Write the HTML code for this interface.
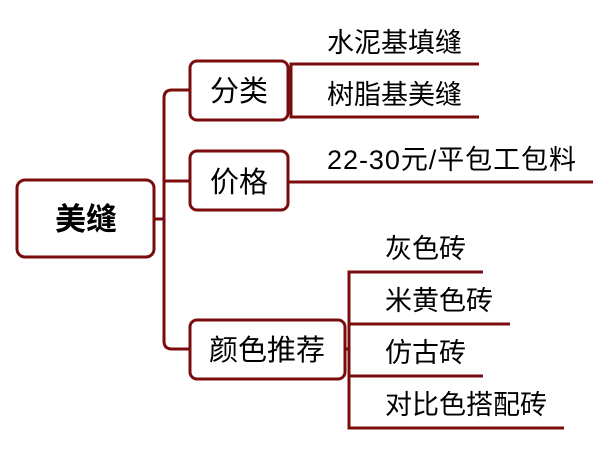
<!DOCTYPE html>
<html><head><meta charset="utf-8"><style>
body{margin:0;background:#fff;width:612px;height:445px;overflow:hidden}
svg text{font-family:"Liberation Sans","Noto Sans CJK SC",sans-serif;fill:#000}
</style></head><body>
<svg width="612" height="445" viewBox="0 0 612 445" xmlns="http://www.w3.org/2000/svg">
<g fill="none" stroke="#7b0c0c" stroke-width="3">
<rect x="17" y="180" width="137" height="77" rx="8" fill="#fff"/>
<rect x="190" y="61" width="98" height="59" rx="7" fill="#fff"/>
<rect x="190" y="151" width="98" height="59" rx="7" fill="#fff"/>
<rect x="190" y="320" width="155" height="59" rx="7" fill="#fff"/>
<path d="M154 219 H164"/>
<path d="M190 90 H172 Q164 90 164 98 V341 Q164 349 172 349 H190"/>
<path d="M164 181 Q164 181 172 181 H190"/>
<path d="M288 90 H291 M479 64 H291 V117 H479"/>
<path d="M288 182 H593"/>
<path d="M345 349 H349 M483 272 H349 V428 H564 M349 324 H510 M349 376 H483"/>
</g>
<text x="86" y="230" font-size="31" font-weight="bold" text-anchor="middle">美缝</text>
<text x="239" y="101" font-size="29" text-anchor="middle">分类</text>
<text x="239" y="192" font-size="29" text-anchor="middle">价格</text>
<text x="267" y="360" font-size="29" text-anchor="middle">颜色推荐</text>
<text x="327" y="52" font-size="27" textLength="135">水泥基填缝</text>
<text x="327" y="104" font-size="27" textLength="135">树脂基美缝</text>
<text x="327" y="169" font-size="27" textLength="249">22-30元/平包工包料</text>
<text x="385" y="258" font-size="27" textLength="81">灰色砖</text>
<text x="385" y="310" font-size="27" textLength="108">米黄色砖</text>
<text x="385" y="362" font-size="27" textLength="81">仿古砖</text>
<text x="385" y="414" font-size="27" textLength="162">对比色搭配砖</text>
</svg>
</body></html>
